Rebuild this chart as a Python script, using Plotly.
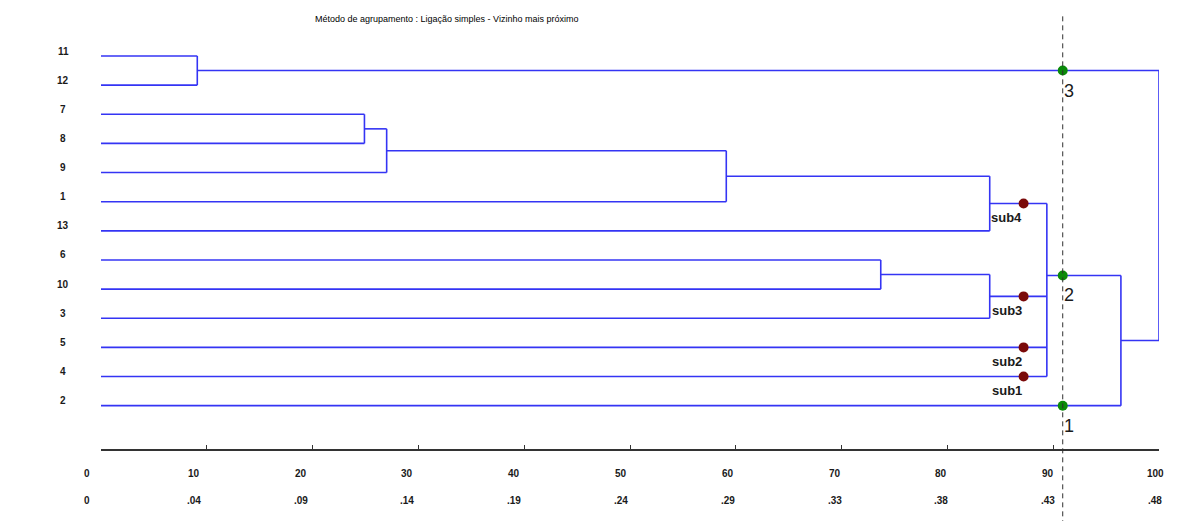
import plotly.graph_objects as go

# ---------------- data ----------------
leaf_labels = ["11", "12", "7", "8", "9", "1", "13", "6", "10", "3", "5", "4", "2"]
merge_ids = ["c1", "c2", "c3", "c4", "c5", "c6", "c7", "c8", "c9", "c10"]
merge_children = [
    ["11", "12"],
    ["7", "8"],
    ["c2", "9"],
    ["c3", "1"],
    ["c4", "13"],
    ["6", "10"],
    ["c6", "3"],
    ["c5", "5", "c7", "4"],
    ["c8", "2"],
    ["c1", "c9"],
]
merge_heights = [9.1, 24.9, 27.0, 59.1, 84.0, 73.7, 84.0, 89.4, 96.4, 100.0]
cut_main = 90.9
cut_sub = 87.2
sub_parent = "c8"
x_ticks = [0, 10, 20, 30, 40, 50, 60, 70, 80, 90, 100]
dist_ticks = ["0", ".04", ".09", ".14", ".19", ".24", ".29", ".33", ".38", ".43", ".48"]
title_text = "Método de agrupamento : Ligação simples - Vizinho mais próximo"

# ---------------- styles ----------------
FONT = "Liberation Sans Narrow, Arial Narrow, Liberation Sans, Arial"
LINE_COLOR = "#3434f4"
TEXT_COLOR = "#1a1a1a"

# ---------------- compute tree geometry ----------------
pos = {lab: i for i, lab in enumerate(leaf_labels)}
height = {lab: 0.0 for lab in leaf_labels}
parent = {}
for mid, ch, h in zip(merge_ids, merge_children, merge_heights):
    pos[mid] = (pos[ch[0]] + pos[ch[1]]) / 2.0
    height[mid] = h
    for c in ch:
        parent[c] = mid

xs, ys = [], []
for mid, ch, h in zip(merge_ids, merge_children, merge_heights):
    ps = [pos[c] for c in ch]
    xs += [h, h, None]
    ys += [min(ps), max(ps), None]
    for c in ch:
        xs += [height[c], h, None]
        ys += [pos[c], pos[c], None]

fig = go.Figure()
fig.add_trace(go.Scatter(x=xs, y=ys, mode="lines",
                         line=dict(color=LINE_COLOR, width=1.6),
                         hoverinfo="skip", cliponaxis=False, showlegend=False))


def crossing(cut, nodes):
    res = [n for n in nodes if n in parent and height[n] < cut < height[parent[n]]]
    return sorted(res, key=lambda n: -pos[n])


def descendants(n):
    out = [n]
    if n in merge_ids:
        for c in merge_children[merge_ids.index(n)]:
            out += descendants(c)
    return out


main_nodes = crossing(cut_main, list(pos.keys()))
sub_nodes = crossing(cut_sub, descendants(sub_parent))

fig.add_trace(go.Scatter(x=[cut_sub] * len(sub_nodes), y=[pos[n] for n in sub_nodes],
                         mode="markers", marker=dict(color="#7a0a0a", size=10),
                         cliponaxis=False, hoverinfo="skip", showlegend=False))
fig.add_trace(go.Scatter(x=[cut_main] * len(main_nodes), y=[pos[n] for n in main_nodes],
                         mode="markers", marker=dict(color="#0a8a0a", size=10),
                         cliponaxis=False, hoverinfo="skip", showlegend=False))

annotations = []
for k, n in enumerate(sub_nodes):
    annotations.append(dict(x=cut_sub, y=pos[n], xref="x", yref="y",
                            text="<b>sub%d</b>" % (k + 1),
                            showarrow=False, xshift=-17, yshift=-14,
                            font=dict(family=FONT, size=13, color=TEXT_COLOR)))
for k, n in enumerate(main_nodes):
    annotations.append(dict(x=cut_main, y=pos[n], xref="x", yref="y", text=str(k + 1),
                            showarrow=False, xshift=6, yshift=-20,
                            font=dict(family=FONT, size=18, color=TEXT_COLOR)))

for lab in leaf_labels:
    annotations.append(dict(x=0, y=pos[lab], xref="x", yref="y", text="<b>%s</b>" % lab,
                            showarrow=False, xshift=-38, yshift=5,
                            font=dict(family=FONT, size=10, color=TEXT_COLOR)))

for v, d in zip(x_ticks, dist_ticks):
    sh = -14 + 0.1 * v
    annotations.append(dict(x=v, y=-0.0535, xref="x", yref="paper", text="<b>%d</b>" % v,
                            showarrow=False, xshift=sh, yanchor="middle",
                            font=dict(family=FONT, size=10, color=TEXT_COLOR)))
    annotations.append(dict(x=v, y=-0.1136, xref="x", yref="paper", text="<b>%s</b>" % d,
                            showarrow=False, xshift=sh, yanchor="middle",
                            font=dict(family=FONT, size=10, color=TEXT_COLOR)))

annotations.append(dict(x=0.327, y=0.958, xref="paper", yref="paper", text=title_text,
                        xanchor="center", yanchor="middle",
                        showarrow=False, font=dict(family=FONT, size=9, color="#000000")))

fig.add_shape(type="line", xref="x", yref="paper", x0=cut_main, x1=cut_main,
              y0=-0.17, y1=0.967, line=dict(color="#303030", width=1, dash="5px,4px"))

fig.update_layout(
    width=1193, height=521,
    margin=dict(l=101, r=34, t=0, b=72),
    paper_bgcolor="white", plot_bgcolor="white",
    annotations=annotations,
    xaxis=dict(range=[0, 100], showgrid=False, zeroline=False, showline=True,
               linecolor="#333333", linewidth=2, ticks="inside", ticklen=4,
               tickcolor="#333333", tickvals=x_ticks, showticklabels=False),
    yaxis=dict(range=[13.487, -1.922], showgrid=False, zeroline=False,
               showline=False, showticklabels=False, ticks=""),
)

fig.write_html("out.html", config={"displayModeBar": False},
               post_script="document.body.style.margin='0';document.body.style.overflow='hidden';")
